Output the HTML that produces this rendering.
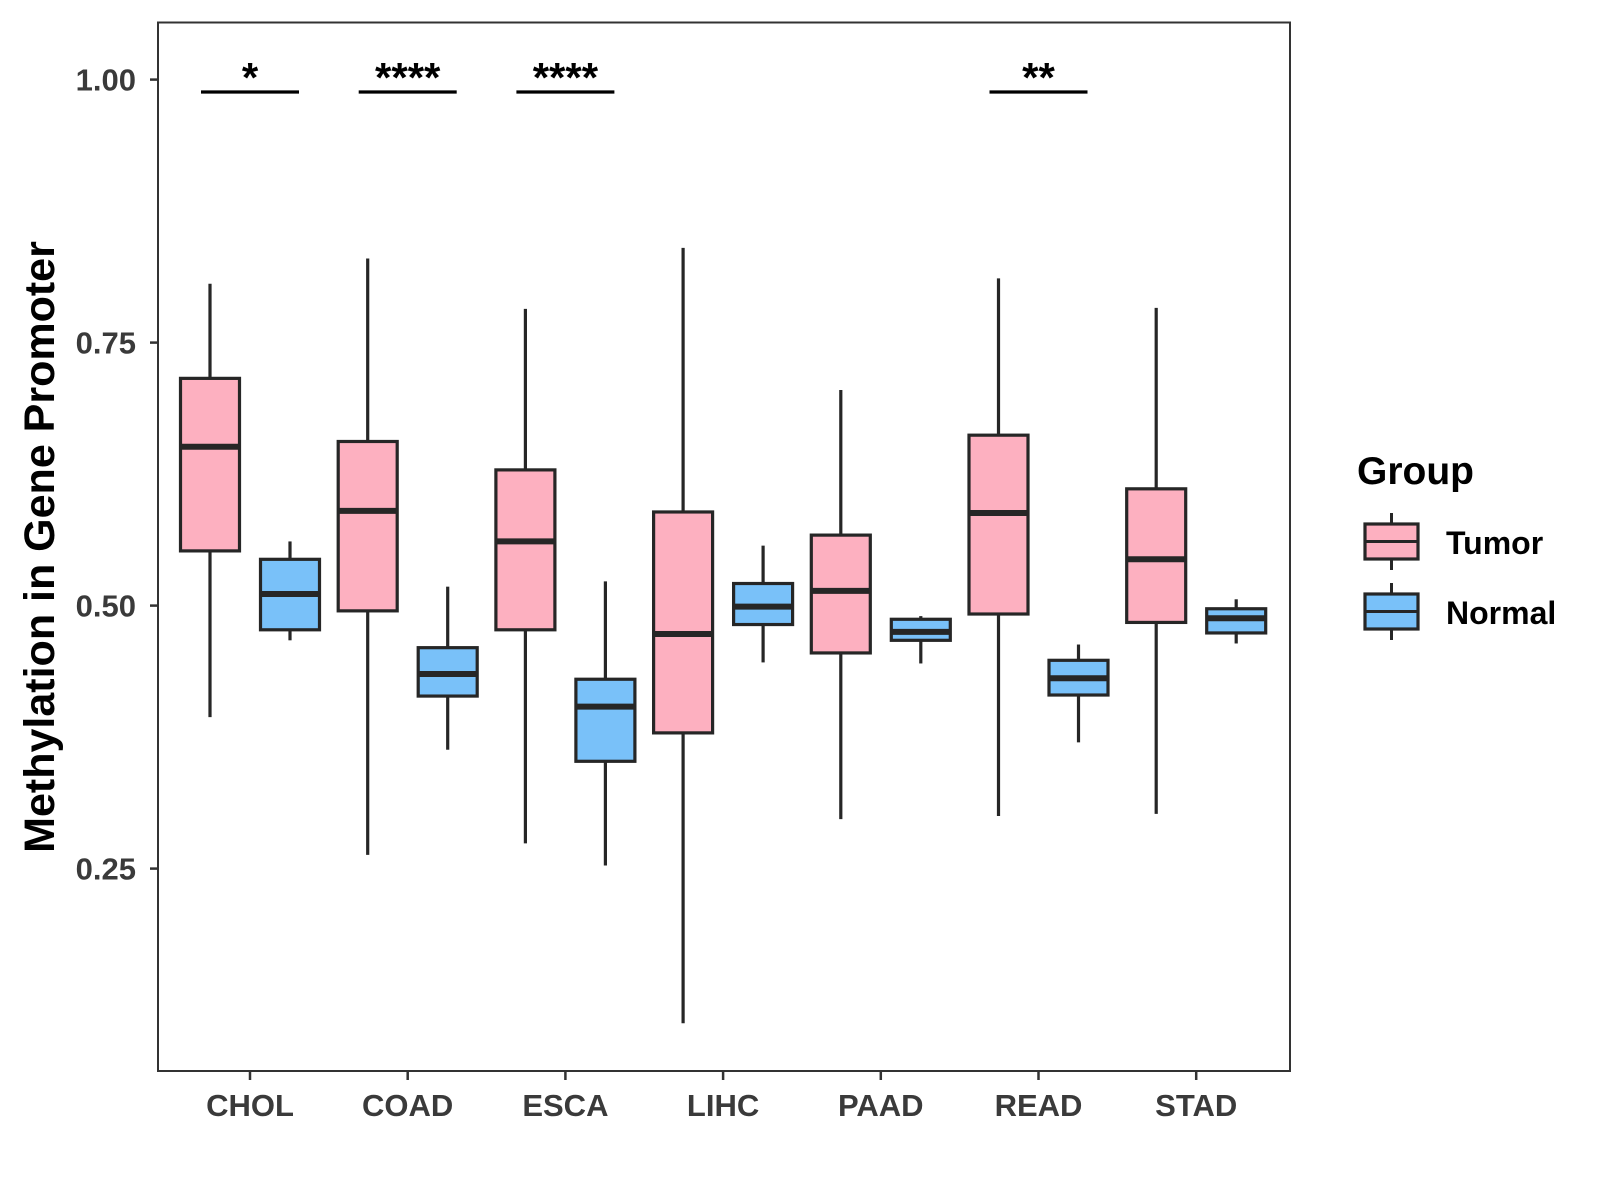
<!DOCTYPE html>
<html><head><meta charset="utf-8"><style>html,body{margin:0;padding:0;background:#fff}svg{display:block}</style></head>
<body>
<svg id="chart" width="1600" height="1200" viewBox="0 0 1600 1200" xmlns="http://www.w3.org/2000/svg" font-family="Liberation Sans, Arial, sans-serif"></svg>
<script>
const categories = ["CHOL","COAD","ESCA","LIHC","PAAD","READ","STAD"];
const tumorLow    = [0.394,0.263,0.274,0.103,0.297,0.300,0.302];
const tumorQ1     = [0.552,0.495,0.477,0.379,0.455,0.492,0.484];
const tumorMed    = [0.651,0.590,0.561,0.473,0.514,0.588,0.544];
const tumorQ3     = [0.716,0.656,0.629,0.589,0.567,0.662,0.611];
const tumorHigh   = [0.806,0.830,0.782,0.840,0.705,0.811,0.783];
const normalLow   = [0.467,0.363,0.253,0.446,0.445,0.370,0.464];
const normalQ1    = [0.477,0.414,0.352,0.482,0.467,0.415,0.474];
const normalMed   = [0.511,0.435,0.404,0.499,0.475,0.431,0.488];
const normalQ3    = [0.544,0.460,0.430,0.521,0.487,0.448,0.497];
const normalHigh  = [0.561,0.518,0.523,0.557,0.490,0.463,0.506];
const yTicks = [0.25,0.50,0.75,1.00];
const yTickLabels = ["0.25","0.50","0.75","1.00"];
const sigCategories = ["CHOL","COAD","ESCA","READ"];
const sigLabels = ["*","****","****","**"];

const svg = document.getElementById('chart');
const NS = 'http://www.w3.org/2000/svg';
const L=158, T=22.5, R=1290, B=1071;
const y = v => 79.6 + (1 - v) * 1052;
const x = i => 250 + i * 157.7;
const STROKE = '#262626', PINK = '#FDB0C0', BLUE = '#79C1F9';
function mk(tag, attrs, parent){ const e=document.createElementNS(NS,tag); for(const k in attrs) e.setAttribute(k,attrs[k]); (parent||svg).appendChild(e); return e; }

const panel = mk('rect',{x:L,y:T,width:R-L,height:B-T,fill:'#fff',stroke:'#333','stroke-width':2});



yTicks.forEach((v,i)=>{
  const t = mk('line',{x1:L-8,x2:L,y1:y(v),y2:y(v),stroke:'#333','stroke-width':2.5});
  
  
  const lb = mk('text',{x:L-22,y:y(v)+11,'text-anchor':'end','font-size':31,'font-weight':'bold',fill:'#3a3a3a'});
  lb.textContent = yTickLabels[i];
  
  
});
categories.forEach((c,i)=>{
  const t = mk('line',{x1:x(i),x2:x(i),y1:B,y2:B+9,stroke:'#333','stroke-width':2.5});
  
  
  const lb = mk('text',{x:x(i),y:B+45,'text-anchor':'middle','font-size':31,'font-weight':'bold',fill:'#3a3a3a'});
  lb.textContent = c;
  
  
});

function box(cx, lo, q1, med, q3, hi, fill, name){
  const g = mk('g',{});
  
  
  const w = 59;
  mk('line',{x1:cx,x2:cx,y1:y(hi),y2:y(q3),stroke:STROKE,'stroke-width':3.2},g);
  mk('line',{x1:cx,x2:cx,y1:y(q1),y2:y(lo),stroke:STROKE,'stroke-width':3.2},g);
  mk('rect',{x:cx-w/2,y:y(q3),width:w,height:y(q1)-y(q3),fill:fill,stroke:STROKE,'stroke-width':3.2},g);
  mk('line',{x1:cx-w/2,x2:cx+w/2,y1:y(med),y2:y(med),stroke:STROKE,'stroke-width':6},g);
}
categories.forEach((c,i)=>{
  box(x(i)-40, tumorLow[i], tumorQ1[i], tumorMed[i], tumorQ3[i], tumorHigh[i], PINK, 'box-tumor-'+c.toLowerCase());
  box(x(i)+40, normalLow[i], normalQ1[i], normalMed[i], normalQ3[i], normalHigh[i], BLUE, 'box-normal-'+c.toLowerCase());
});

sigCategories.forEach((c,k)=>{
  const i = categories.indexOf(c);
  const ln = mk('line',{x1:x(i)-49,x2:x(i)+49,y1:92,y2:92,stroke:'#000','stroke-width':3.2});
  
  
  const tx = mk('text',{x:x(i),y:92,'text-anchor':'middle','font-size':42,'font-weight':'bold',fill:'#000'});
  tx.textContent = sigLabels[k];
  
  
});

const yt = mk('text',{x:0,y:0,transform:'translate(54,547) rotate(-90)','text-anchor':'middle','font-size':43,'font-weight':'bold',fill:'#000'});
yt.textContent = 'Methylation in Gene Promoter';



const lt = mk('text',{x:1357,y:484,'font-size':39,'font-weight':'bold',fill:'#000'});
lt.textContent = 'Group';


function legendEntry(yTop, fill, label, name){
  const g = mk('g',{});
  
  
  const cx = 1391.5, h = 35;
  mk('line',{x1:cx,x2:cx,y1:yTop-11,y2:yTop+h+11,stroke:STROKE,'stroke-width':3},g);
  mk('rect',{x:1365,y:yTop,width:53,height:h,fill:fill,stroke:STROKE,'stroke-width':3.2},g);
  mk('line',{x1:1365,x2:1418,y1:yTop+h/2,y2:yTop+h/2,stroke:STROKE,'stroke-width':3},g);
  const t = mk('text',{x:1446,y:yTop+30,'font-size':32,'font-weight':'bold',fill:'#000'},g);
  t.textContent = label;
}
legendEntry(524, PINK, 'Tumor', 'legend-entry-tumor');
legendEntry(594, BLUE, 'Normal', 'legend-entry-normal');
</script>
</body></html>
